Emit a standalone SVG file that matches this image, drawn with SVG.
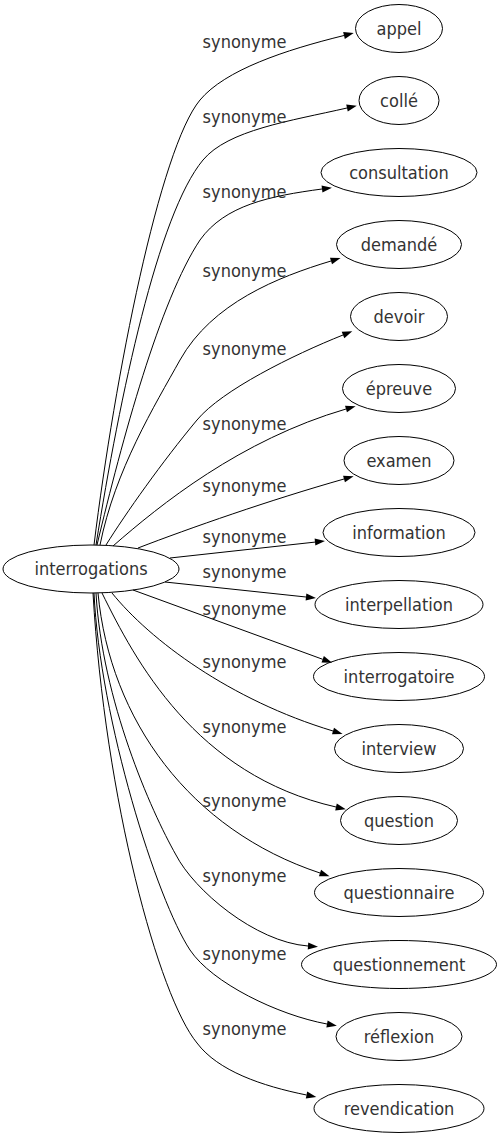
<svg xmlns="http://www.w3.org/2000/svg" width="500" height="1139" viewBox="0 0 500 1139">
<style>
.node ellipse{fill:none;stroke:#000;stroke-width:1}
.edges path{fill:none;stroke:#000;stroke-width:1;marker-end:url(#ah)}
text{font-family:"DejaVu Sans Condensed","DejaVu Sans",sans-serif;font-stretch:condensed;font-size:18px;fill:#333;text-anchor:middle}
</style>
<defs>
<marker id="ah" markerUnits="userSpaceOnUse" markerWidth="10" markerHeight="7" refX="0" refY="3.5" orient="auto" viewBox="0 0 10 7" overflow="visible"><path d="M0,0 L10,3.5 L0,7 z" fill="#000"/></marker>
</defs>
<rect width="500" height="1139" fill="#fff"/>
<g class="edges">
<path d="M94,545 C115,375 160,148 200,100 C225,70 285,50 344,35.5"/>
<path d="M96,545 C120,395 158,214 203,160 C228,130 290,121 347,108"/>
<path d="M97,545 C122,440 160,300 200,240 C225,205 270,196 322,189"/>
<path d="M100,545 C115,470 155,405 180,360 C212,303 278,277 331,261"/>
<path d="M106,545 C126,513 162,462 197,420 C222,390 293,355 343,335"/>
<path d="M113,546 C160,505 240,440 346,409"/>
<path d="M138,548 C190,528 270,500 344,479"/>
<path d="M170,558 L315,542.1"/>
<path d="M165,582 L306,597"/>
<path d="M133,590 L322.7,659.3"/>
<path d="M112,593 C150,640 230,700 333,731"/>
<path d="M102,593 C135,660 195,775 336,807"/>
<path d="M98,593 C110,720 190,830 320,873"/>
<path d="M96,593 C102,700 151,811 176,855 C194,890 255,942 308,946"/>
<path d="M94,593 C100,720 157,900 190,950 C212,983 278,1015 327,1024"/>
<path d="M93,593 C105,800 159,997 197,1043 C218,1071 262,1086 306.5,1095"/>
</g>
<g class="labels">
<text x="244.5" y="48">synonyme</text>
<text x="244.5" y="123">synonyme</text>
<text x="244.5" y="198">synonyme</text>
<text x="244.5" y="277">synonyme</text>
<text x="244.5" y="355">synonyme</text>
<text x="244.5" y="430">synonyme</text>
<text x="244.5" y="492">synonyme</text>
<text x="244.5" y="543">synonyme</text>
<text x="244.5" y="578">synonyme</text>
<text x="244.5" y="615">synonyme</text>
<text x="244.5" y="668">synonyme</text>
<text x="244.5" y="733">synonyme</text>
<text x="244.5" y="807">synonyme</text>
<text x="244.5" y="882">synonyme</text>
<text x="244.5" y="960">synonyme</text>
<text x="244.5" y="1035">synonyme</text>
</g>
<g id="interrogations" class="node"><ellipse cx="91" cy="569" rx="88" ry="24"/><text x="91" y="575">interrogations</text></g>
<g id="appel" class="node"><ellipse cx="399" cy="28.5" rx="43.5" ry="24"/><text x="399" y="34.5">appel</text></g>
<g id="colle" class="node"><ellipse cx="399" cy="100.5" rx="40" ry="24"/><text x="399" y="106.5">collé</text></g>
<g id="consultation" class="node"><ellipse cx="399" cy="172.5" rx="78" ry="24"/><text x="399" y="178.5">consultation</text></g>
<g id="demande" class="node"><ellipse cx="399" cy="244.5" rx="62.5" ry="24"/><text x="399" y="250.5">demandé</text></g>
<g id="devoir" class="node"><ellipse cx="399" cy="316.5" rx="48.5" ry="24"/><text x="399" y="322.5">devoir</text></g>
<g id="epreuve" class="node"><ellipse cx="399" cy="388.5" rx="56.5" ry="24"/><text x="399" y="394.5">épreuve</text></g>
<g id="examen" class="node"><ellipse cx="399" cy="460.5" rx="55" ry="24"/><text x="399" y="466.5">examen</text></g>
<g id="information" class="node"><ellipse cx="399" cy="532.5" rx="76" ry="24"/><text x="399" y="538.5">information</text></g>
<g id="interpellation" class="node"><ellipse cx="399" cy="604.5" rx="84" ry="24"/><text x="399" y="610.5">interpellation</text></g>
<g id="interrogatoire" class="node"><ellipse cx="399" cy="676.5" rx="85.5" ry="24"/><text x="399" y="682.5">interrogatoire</text></g>
<g id="interview" class="node"><ellipse cx="399" cy="748.5" rx="64.5" ry="24"/><text x="399" y="754.5">interview</text></g>
<g id="question" class="node"><ellipse cx="399" cy="820.5" rx="58.5" ry="24"/><text x="399" y="826.5">question</text></g>
<g id="questionnaire" class="node"><ellipse cx="399" cy="892.5" rx="84.5" ry="24"/><text x="399" y="898.5">questionnaire</text></g>
<g id="questionnement" class="node"><ellipse cx="399" cy="964.5" rx="97.5" ry="24"/><text x="399" y="970.5">questionnement</text></g>
<g id="reflexion" class="node"><ellipse cx="399" cy="1036.5" rx="63" ry="24"/><text x="399" y="1042.5">réflexion</text></g>
<g id="revendication" class="node"><ellipse cx="399" cy="1108.5" rx="85" ry="24"/><text x="399" y="1114.5">revendication</text></g>
</svg>
